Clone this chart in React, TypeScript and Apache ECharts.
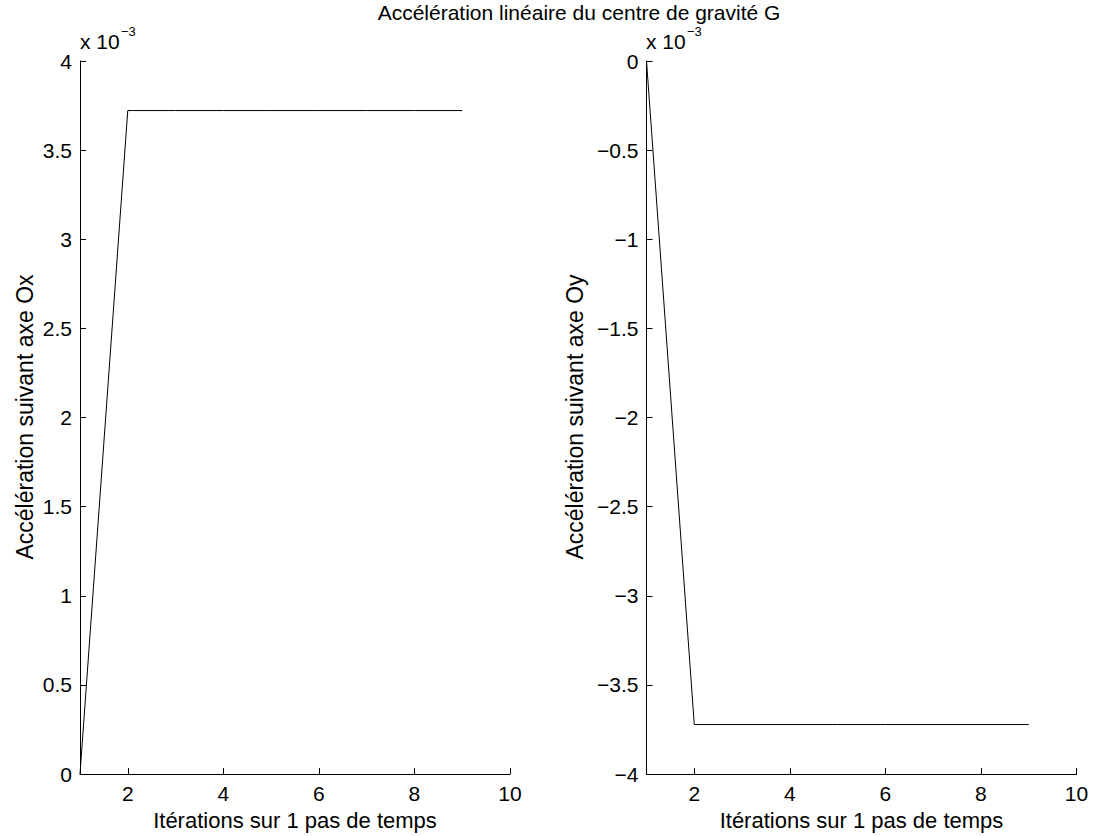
import React, { useEffect, useRef } from "react";
import * as echarts from "echarts";

const iterations = [1, 2, 3, 4, 5, 6, 7, 8, 9];
// values in units of 10^-3
const accOx = [0, 3.722, 3.722, 3.722, 3.722, 3.722, 3.722, 3.722, 3.722];
const accOy = [0, -3.722, -3.722, -3.722, -3.722, -3.722, -3.722, -3.722, -3.722];
const xTicks = [2, 4, 6, 8, 10];
const titleText = "Accélération linéaire du centre de gravité G";
const xName = "Itérations sur 1 pas de temps";
const yNameLeft = "Accélération suivant axe Ox";
const yNameRight = "Accélération suivant axe Oy";

const FONT = "Liberation Sans, Arial, Helvetica, sans-serif";
const FS = 21;

function fmt(v: number) {
  const s = String(Math.round(v * 10) / 10);
  return s.replace("-", "\u2212");
}

export default function App() {
  const ref = useRef<HTMLDivElement>(null);
  useEffect(() => {
    if (!ref.current) return;
    const chart = echarts.init(ref.current, undefined, { renderer: "svg" });
    const axisLine = { show: true, onZero: false, lineStyle: { color: "#000", width: 1 } };
    const xAxisBase = (gridIndex: number) => ({
      type: "value",
      gridIndex,
      min: 1,
      max: 10,
      axisLine,
      axisTick: { show: true, inside: true, length: 6, customValues: xTicks, lineStyle: { color: "#000" } },
      axisLabel: { customValues: xTicks, color: "#000", fontSize: FS, fontFamily: FONT, margin: 9 },
      splitLine: { show: false },
      name: xName,
      nameLocation: "middle",
      nameGap: 34,
      nameTextStyle: { color: "#000", fontSize: 22, fontFamily: FONT },
    });
    const yAxisBase = (gridIndex: number, min: number, max: number) => ({
      type: "value",
      gridIndex,
      min,
      max,
      interval: 0.5,
      axisLine,
      axisTick: { show: true, inside: true, length: 6, lineStyle: { color: "#000" } },
      axisLabel: { color: "#000", fontSize: FS, fontFamily: FONT, margin: 8, formatter: (v: number) => fmt(v) },
      splitLine: { show: false },
    });
    const yName = (text: string, x: number) => ({
      type: "text",
      x,
      y: 417,
      rotation: Math.PI / 2,
      style: { text, fill: "#000", font: `23px ${FONT}`, textAlign: "center", textVerticalAlign: "bottom" },
    });
    chart.setOption({
      animation: false,
      backgroundColor: "#fff",
      grid: [
        { left: 80, top: 61, width: 430, height: 714, containLabel: false },
        { left: 646.5, top: 61, width: 430, height: 714, containLabel: false },
      ],
      xAxis: [xAxisBase(0), xAxisBase(1)],
      yAxis: [yAxisBase(0, 0, 4), yAxisBase(1, -4, 0)],
      series: [
        {
          type: "line",
          xAxisIndex: 0,
          yAxisIndex: 0,
          data: iterations.map((x, i) => [x, accOx[i]]),
          showSymbol: false,
          lineStyle: { color: "#000", width: 1 },
        },
        {
          type: "line",
          xAxisIndex: 1,
          yAxisIndex: 1,
          data: iterations.map((x, i) => [x, accOy[i]]),
          showSymbol: false,
          lineStyle: { color: "#000", width: 1 },
        },
      ],
      graphic: [
        {
          type: "text",
          x: 579,
          y: 2,
          style: { text: titleText, fill: "#000", font: `${FS}px ${FONT}`, textAlign: "center", textVerticalAlign: "top" },
        },
        { type: "text", x: 80, y: 31, style: { text: "x 10", fill: "#000", font: `${FS}px ${FONT}` } },
        { type: "text", x: 121, y: 25, style: { text: "\u22123", fill: "#000", font: `13px ${FONT}` } },
        { type: "text", x: 646, y: 31, style: { text: "x 10", fill: "#000", font: `${FS}px ${FONT}` } },
        { type: "text", x: 687, y: 25, style: { text: "\u22123", fill: "#000", font: `13px ${FONT}` } },
        yName(yNameLeft, 36),
        yName(yNameRight, 586),
      ],
    });
    return () => chart.dispose();
  }, []);
  return <div ref={ref} style={{ position: "absolute", left: 0, top: 0, width: 1093, height: 836 }} />;
}
